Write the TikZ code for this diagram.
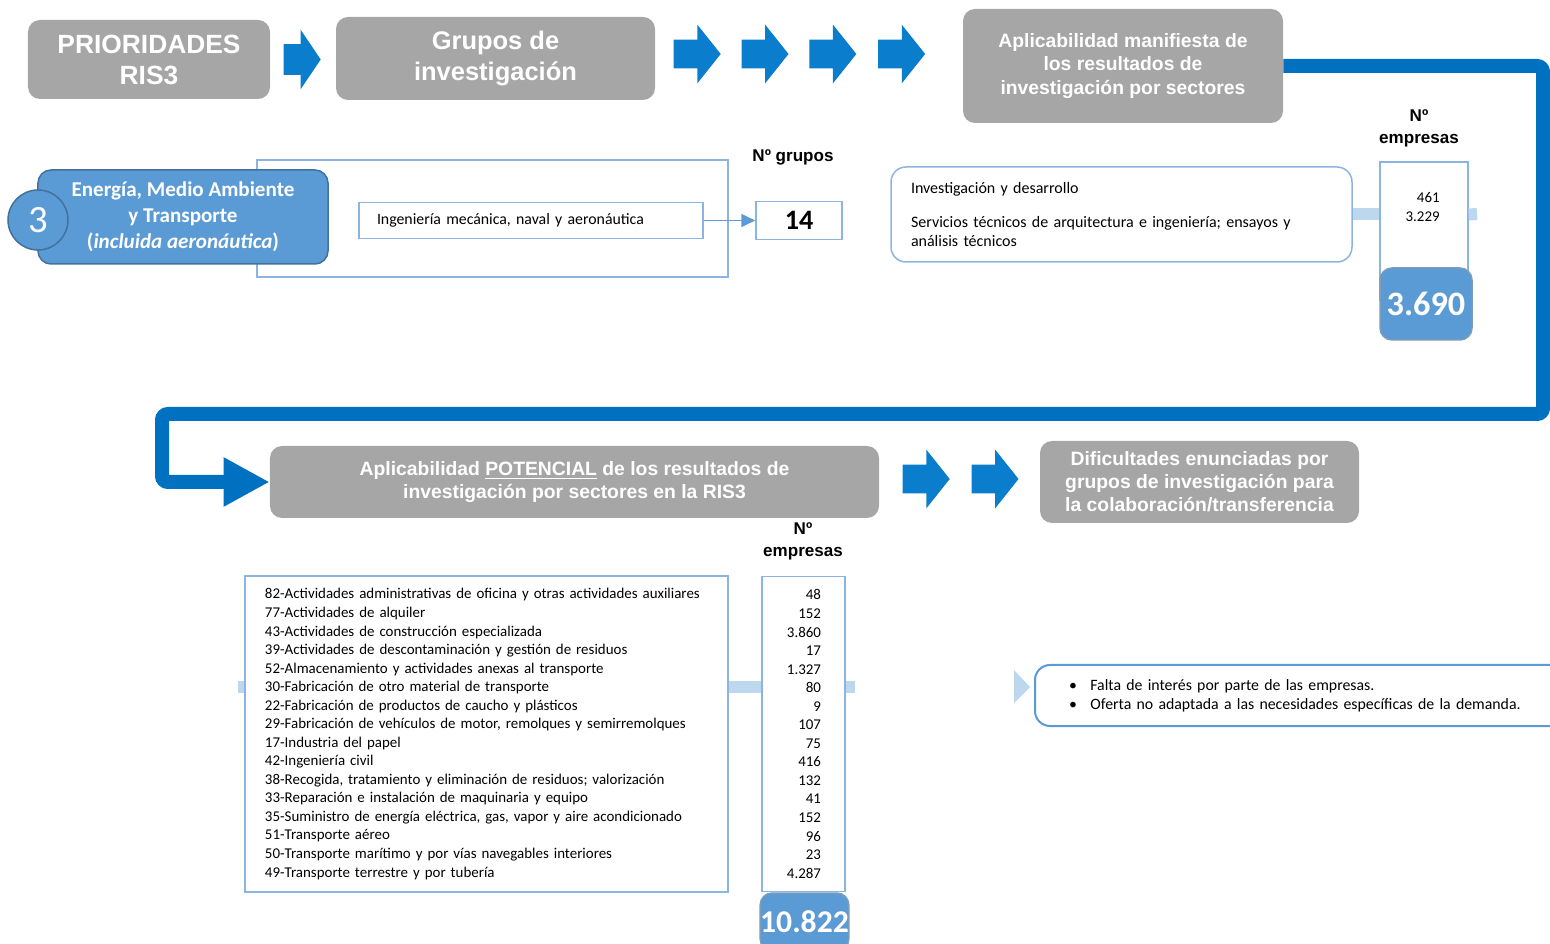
\documentclass[tikz,border=0pt]{standalone}
\usepackage{fontspec}
\setmainfont{Liberation Sans}
\newfontfamily\calibri{Carlito}
\usetikzlibrary{positioning,shapes.arrows,arrows.meta}

\definecolor{boxgray}{HTML}{A6A6A6}
\definecolor{chevblue}{HTML}{0A7DCD}
\definecolor{flowblue}{HTML}{0070C0}
\definecolor{midblue}{HTML}{5B9BD5}
\definecolor{darkblue}{HTML}{41719C}
\definecolor{lineblue}{HTML}{8CB4E1}
\definecolor{paleblue}{HTML}{BDD7EE}

\begin{document}
\begin{tikzpicture}[x=0.2mm, y=-0.2mm,
        graybox/.style={rectangle, rounded corners=2.4mm, fill=boxgray, text=white,
                        align=center, inner sep=0pt},
        chev/.style={single arrow, fill=chevblue, inner xsep=0pt, inner ysep=2.8mm,
                     minimum height=9.4mm, minimum width=11.6mm,
                     single arrow head extend=3mm, single arrow tip angle=103},
        flow/.style={flowblue, line width=2.8mm, rounded corners=1.2mm,
                     -{Triangle[length=9.2mm, width=9.2mm]}},
        bluebox/.style={rectangle, rounded corners=2.6mm, fill=midblue, draw=darkblue,
                        line width=0.3mm, text=white, align=center},
        thinbox/.style={rectangle, draw=lineblue, line width=0.3mm, fill=white, inner sep=0pt},
        roundbox/.style={thinbox, rounded corners=3mm},
        totbox/.style={rectangle, rounded corners=2.4mm, fill=midblue, draw=darkblue!70,
                       line width=0.3mm, text=white, inner sep=0pt,
                       font=\calibri\bfseries\fontsize{19.5}{20}\selectfont},
        bar/.style={paleblue, line width=2.4mm},
        arr/.style={midblue, line width=0.35mm, -{Triangle[length=2.8mm, width=2.6mm]}},
        lbl/.style={align=center, inner sep=0pt, font=\bfseries\fontsize{9.7}{12.5}\selectfont}]
    \useasboundingbox (0,0) rectangle (1550,944);
    \clip (0,0) rectangle (1550,944);

    % top row
    \node[graybox, minimum width=48.4mm, minimum height=15.8mm,
          font=\bfseries\fontsize{15}{17.6}\selectfont] (prio) at (149,59.5) {PRIORIDADES\\RIS3};
    \node[chev, right=2.6mm of prio, minimum height=7.4mm, minimum width=11.8mm, inner ysep=3mm,
          single arrow head extend=2.9mm, single arrow tip angle=112] (c1) {};
    \node[graybox, minimum width=63.8mm, minimum height=16.6mm,
          font=\bfseries\fontsize{14.5}{17.6}\selectfont] (grupos) at (495.5,58.5) {Grupos de\\investigación};
    \node[chev, right=3.6mm of grupos, yshift=0.9mm] (c2) {};
    \node[chev, right=4mm of c2] (c3) {};
    \node[chev, right=4mm of c3] (c4) {};
    \node[chev, right=4.2mm of c4] (c5) {};
    \node[graybox, minimum width=64mm, minimum height=22.8mm,
          font=\bfseries\fontsize{11}{13.4}\selectfont] (aplic) at (1123,66)
          {Aplicabilidad manifiesta de\\los resultados de\\investigación por sectores};

    % priority 3 and research groups
    \node[thinbox, minimum width=94.2mm, minimum height=23.4mm] (frame) at (492.5,218.5) {};
    \node[bluebox, minimum width=58mm, minimum height=18.8mm,
          font=\calibri\bfseries\fontsize{12}{14.8}\selectfont] (energy) at (183,217)
          {Energía, Medio Ambiente\\y Transporte\\(\textit{incluida aeronáutica})};
    \node[circle, fill=midblue, draw=darkblue, line width=0.3mm, minimum size=12mm,
          inner sep=0pt, text=white, font=\calibri\fontsize{22}{22}\selectfont] (three) at (38,220) {3};
    \node[thinbox, text width=61.6mm, inner xsep=3.6mm, minimum height=7.2mm, align=left,
          font=\calibri\fontsize{9}{10}\selectfont] (ing) at (531,220.5)
          {Ingeniería mecánica, naval y aeronáutica};
    \node[thinbox, minimum width=17.2mm, minimum height=7.6mm,
          font=\calibri\bfseries\fontsize{16}{16}\selectfont] (n14) at (799,220.5) {14};
    \node[lbl] (ngrp) at (793,157) {Nº grupos};
    \draw[arr] (ing.east) -- (n14.west);

    % manifest applicability
    \node[roundbox, text width=84.2mm, inner xsep=4mm, minimum height=19mm, align=left,
          font=\calibri\fontsize{9.1}{10.4}\selectfont] (sect) at (1121.5,214.5)
          {Investigación y desarrollo\\[3.2mm]Servicios técnicos de arquitectura e ingeniería; ensayos y\\análisis técnicos};
    \node[thinbox, minimum width=17.6mm, minimum height=27.6mm] (emp1) at (1424,231) {};
    \node[anchor=north east, inner sep=0pt, align=right,
          font=\calibri\fontsize{8.5}{10.8}\selectfont] (vals1) at (1440,192) {461\\3.229};
    \node[totbox, minimum width=18.4mm, minimum height=14.4mm] (tot1) at (1426,304) {3.690};
    \node[lbl] (nemp1) at (1419,128) {Nº\\empresas};
    \coordinate (stub1) at (1477,214);
    \draw[bar] (sect.east) -- (emp1.west |- sect.east);
    \draw[bar] (emp1.east |- sect.east) -- (stub1);

    % second row
    \node[graybox, minimum width=121.8mm, minimum height=14.4mm,
          font=\bfseries\fontsize{11}{13}\selectfont] (poten) at (574.5,482)
          {Aplicabilidad \underline{POTENCIAL} de los resultados de\\investigación por sectores en la RIS3};
    \node[chev, right=4.6mm of poten, yshift=0.6mm] (b1) {};
    \node[chev, right=4.2mm of b1] (b2) {};
    \node[graybox, minimum width=63.8mm, minimum height=16.4mm,
          font=\bfseries\fontsize{11}{13}\selectfont] (dific) at (1199.5,482)
          {Dificultades enunciadas por\\grupos de investigación para\\la colaboración/transferencia};
    \draw[flow] (aplic.east) -| (1543,414) -- (162,414) |- (poten.west);

    % potential applicability
    \node[lbl] (nemp2) at (803,541) {Nº\\empresas};
    \node[thinbox, text width=88.6mm, inner xsep=4mm, minimum height=63.2mm, align=left,
          font=\calibri\fontsize{8.5}{10.55}\selectfont] (sectors) at (486.5,734)
          {82-Actividades administrativas de oficina y otras actividades auxiliares\\
           77-Actividades de alquiler\\
           43-Actividades de construcción especializada\\
           39-Actividades de descontaminación y gestión de residuos\\
           52-Almacenamiento y actividades anexas al transporte\\
           30-Fabricación de otro material de transporte\\
           22-Fabricación de productos de caucho y plásticos\\
           29-Fabricación de vehículos de motor, remolques y semirremolques\\
           17-Industria del papel\\
           42-Ingeniería civil\\
           38-Recogida, tratamiento y eliminación de residuos; valorización\\
           33-Reparación e instalación de maquinaria y equipo\\
           35-Suministro de energía eléctrica, gas, vapor y aire acondicionado\\
           51-Transporte aéreo\\
           50-Transporte marítimo y por vías navegables interiores\\
           49-Transporte terrestre y por tubería};
    \node[thinbox, text width=7mm, inner xsep=4.8mm, minimum height=63mm, align=right,
          font=\calibri\fontsize{8.5}{10.55}\selectfont] (emp2) at (803.5,734)
          {48\\152\\3.860\\17\\1.327\\80\\9\\107\\75\\416\\132\\41\\152\\96\\23\\4.287};
    \node[totbox, minimum width=17mm, minimum height=11.6mm,
          font=\calibri\bfseries\fontsize{18}{18}\selectfont] (tot2) at (804.5,922) {10.822};
    \coordinate (stubL) at (238,687);
    \coordinate (stubR) at (855,687);
    \draw[bar] (stubL) -- (sectors.west |- stubL);
    \draw[bar] (sectors.east |- stubL) -- (emp2.west |- stubL);
    \draw[bar] (emp2.east |- stubL) -- (stubR);

    % difficulties
    \node[roundbox, line width=0.4mm, draw=midblue, text width=92.4mm, inner xsep=6.8mm,
          minimum height=12.2mm, align=left, font=\calibri\fontsize{9}{10.8}\selectfont] (diffs) at (1300,695.5)
          {•\hspace{2.7mm}Falta de interés por parte de las empresas.\\
           •\hspace{2.7mm}Oferta no adaptada a las necesidades específicas de la demanda.};
    \fill[paleblue] (1014,670) -- (1030,687) -- (1014,703) -- cycle;
\end{tikzpicture}
\end{document}
